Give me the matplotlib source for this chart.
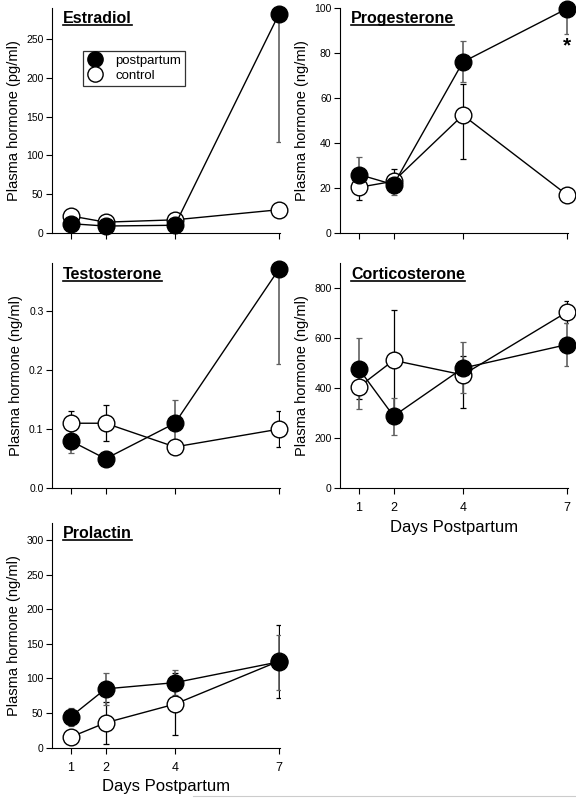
import matplotlib
matplotlib.use("Agg")
import matplotlib.pyplot as plt
from matplotlib.lines import Line2D
from matplotlib.ticker import FormatStrFormatter

plt.rcParams['font.family'] = ['Liberation Sans', 'DejaVu Sans']

# ---- data ----
days = [1, 2, 4, 7]

estradiol_pp = [12, 9, 10, 282]
estradiol_pp_lo = [3, 2, 3, 165]
estradiol_pp_hi = [3, 2, 3, 165]
estradiol_ct = [22, 14, 17, 30]
estradiol_ct_lo = [3, 2, 3, 4]
estradiol_ct_hi = [3, 2, 3, 4]

prog_pp = [26, 21.5, 76, 99.7]
prog_pp_lo = [8, 4.5, 9, 11.2]
prog_pp_hi = [8, 4.5, 9.3, 11.2]
prog_ct = [20.3, 23, 52.4, 17]
prog_ct_lo = [5.6, 5.3, 19.4, 1]
prog_ct_hi = [5.6, 5.3, 13.6, 1]

testo_pp = [0.08, 0.05, 0.11, 0.37]
testo_pp_lo = [0.02, 0.01, 0.04, 0.16]
testo_pp_hi = [0.02, 0.01, 0.04, 0.16]
testo_ct = [0.11, 0.11, 0.07, 0.10]
testo_ct_lo = [0.02, 0.03, 0.01, 0.03]
testo_ct_hi = [0.02, 0.03, 0.01, 0.03]

cort_pp = [478, 289, 481, 575]
cort_pp_lo = [161, 76, 100, 87]
cort_pp_hi = [124, 71, 103, 87]
cort_ct = [406, 512, 454, 705]
cort_ct_lo = [50, 200, 134, 43]
cort_ct_hi = [50, 201, 74, 44]

prl_pp = [45, 85, 94, 124]
prl_pp_lo = [13, 24, 18, 41]
prl_pp_hi = [13, 23, 18, 39]
prl_ct = [15.5, 36, 63, 125]
prl_ct_lo = [5, 30, 44, 53]
prl_ct_hi = [5, 30, 45, 52]


def draw_panel(ax, pp, pp_lo, pp_hi, ct, ct_lo, ct_hi, ylim, yticks,
               title, ylabel, yfmt='%d', xlabels=False):
    # error bars first (clipped to axes), then lines and markers
    ax.errorbar(days, ct, yerr=[ct_lo, ct_hi], fmt='none', ecolor='black',
                elinewidth=0.9, capsize=2.5, capthick=0.9, zorder=2)
    ax.errorbar(days, pp, yerr=[pp_lo, pp_hi], fmt='none', ecolor='#606060',
                elinewidth=1.2, capsize=2.5, capthick=0.9, zorder=2)
    ax.plot(days, ct, '-o', color='black', lw=1, markersize=12,
            markerfacecolor='white', markeredgecolor='black', markeredgewidth=1,
            zorder=3, clip_on=False, label='control')
    ax.plot(days, pp, '-o', color='black', lw=1, markersize=12,
            markerfacecolor='black', markeredgecolor='black',
            zorder=4, clip_on=False, label='postpartum')
    ax.set_xlim(0.45, 7.03)
    ax.set_ylim(*ylim)
    ax.set_yticks(yticks)
    ax.yaxis.set_major_formatter(FormatStrFormatter(yfmt))
    ax.set_xticks(days)
    ax.spines['top'].set_visible(False)
    ax.spines['right'].set_visible(False)
    ax.tick_params(axis='y', direction='out', length=4, width=0.8,
                   labelsize=7.5, pad=2)
    ax.tick_params(axis='x', direction='out', length=4, width=0.8,
                   labelsize=9, pad=6)
    if xlabels:
        ax.set_xlabel('Days Postpartum', fontsize=12, labelpad=4)
    else:
        ax.set_xticklabels([])
    ax.set_ylabel(ylabel, fontsize=10.5, labelpad=4)
    t = ax.text(0.05, 0.952, title, transform=ax.transAxes, fontsize=11.5,
                fontweight='bold', ha='left', va='center')
    return t


fig = plt.figure(figsize=(5.76, 7.98), dpi=100)

ax1 = fig.add_axes([0.090, 0.708, 0.396, 0.282])
ax2 = fig.add_axes([0.590, 0.708, 0.396, 0.282])
ax3 = fig.add_axes([0.090, 0.388, 0.396, 0.282])
ax4 = fig.add_axes([0.590, 0.388, 0.396, 0.282])
ax5 = fig.add_axes([0.090, 0.063, 0.396, 0.282])

titles = []
titles.append(draw_panel(ax1, estradiol_pp, estradiol_pp_lo, estradiol_pp_hi,
                         estradiol_ct, estradiol_ct_lo, estradiol_ct_hi,
                         (0, 290), [0, 50, 100, 150, 200, 250],
                         'Estradiol', 'Plasma hormone (pg/ml)'))
titles.append(draw_panel(ax2, prog_pp, prog_pp_lo, prog_pp_hi,
                         prog_ct, prog_ct_lo, prog_ct_hi,
                         (0, 100), [0, 20, 40, 60, 80, 100],
                         'Progesterone', 'Plasma hormone (ng/ml)'))
titles.append(draw_panel(ax3, testo_pp, testo_pp_lo, testo_pp_hi,
                         testo_ct, testo_ct_lo, testo_ct_hi,
                         (0, 0.38), [0.0, 0.1, 0.2, 0.3],
                         'Testosterone', 'Plasma hormone (ng/ml)', yfmt='%.1f'))
titles.append(draw_panel(ax4, cort_pp, cort_pp_lo, cort_pp_hi,
                         cort_ct, cort_ct_lo, cort_ct_hi,
                         (0, 900), [0, 200, 400, 600, 800],
                         'Corticosterone', 'Plasma hormone (ng/ml)', xlabels=True))
titles.append(draw_panel(ax5, prl_pp, prl_pp_lo, prl_pp_hi,
                         prl_ct, prl_ct_lo, prl_ct_hi,
                         (0, 325), [0, 50, 100, 150, 200, 250, 300],
                         'Prolactin', 'Plasma hormone (ng/ml)', xlabels=True))

# significance marker
ax2.text(7, 83, '*', ha='center', va='center', fontsize=15, fontweight='bold')

# legend in the estradiol panel (postpartum first)
h, l = ax1.get_legend_handles_labels()
leg = ax1.legend(h[::-1], l[::-1], loc='upper left', bbox_to_anchor=(0.135, 0.81),
                 borderaxespad=0, fontsize=9.5, frameon=True, fancybox=False,
                 edgecolor='black', handlelength=1.2, handletextpad=1.0,
                 borderpad=0.3, labelspacing=0.2)
for line in leg.get_lines():
    line.set_linestyle('none')
    line.set_markersize(11)
leg.get_frame().set_linewidth(0.9)

# underline the panel titles
fig.canvas.draw()
renderer = fig.canvas.get_renderer()
inv = fig.transFigure.inverted()
for t in titles:
    bb = t.get_window_extent(renderer)
    (x0, y0), (x1, y1) = inv.transform([(bb.x0, bb.y0), (bb.x1, bb.y1)])
    fig.add_artist(Line2D([x0, x1], [y0 + 0.001, y0 + 0.001], color='black',
                          lw=1.2, transform=fig.transFigure))

# faint rule at the bottom of the page
fig.add_artist(Line2D([193 / 576, 1.0], [0.003, 0.003], color='#cccccc',
                      lw=0.8, transform=fig.transFigure))

fig.savefig('out.png', dpi=100)
